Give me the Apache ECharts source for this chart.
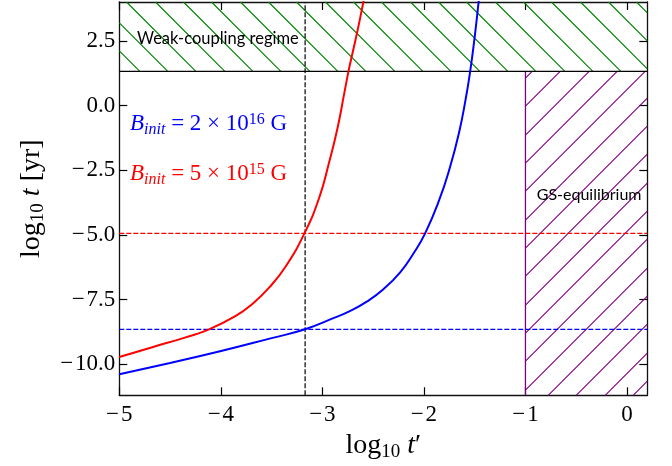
<!DOCTYPE html>
<html>
<head>
<meta charset="utf-8">
<script src="https://cdn.jsdelivr.net/npm/echarts@6/dist/echarts.min.js"></script>
<style>
  html, body { margin: 0; padding: 0; background: #fff; }
  #chart { width: 672px; height: 466px; }
</style>
</head>
<body>
<div id="chart"></div>
<script>
// Axis extents and tick positions
const xRange = [-5, 0.2];
const yRange = [-11.2, 4.0];
const xTicks = [-5, -4, -3, -2, -1, 0];
const yTicks = [-10, -7.5, -5, -2.5, 0, 2.5];

// Region boundaries
const weakCouplingLevel = 1.32;   // log10 t above which the weak-coupling regime applies
const gsEquilibriumStart = -1;    // log10 t' beyond which GS equilibrium holds

// Reference markers
const crossingX = -3.17;          // vertical dashed marker (log10 t')
const redLevel = -4.94;           // horizontal dashed level for the 5e15 G track
const blueLevel = -8.65;          // horizontal dashed level for the 2e16 G track

// Evolution tracks: [log10 t', log10 t]
const trackStrong = [ // B_init = 2e16 G
  [-5.0, -10.39], [-4.5, -9.95], [-4.018, -9.51], [-3.5, -8.99], [-3.17, -8.65],
  [-2.892, -8.22], [-2.73, -7.95], [-2.563, -7.58], [-2.399, -7.10], [-2.234, -6.45],
  [-2.103, -5.72], [-1.988, -4.94], [-1.85, -3.66], [-1.742, -2.37], [-1.656, -1.08],
  [-1.591, 0.20], [-1.545, 1.30], [-1.496, 2.78], [-1.459, 4.07], [-1.45, 4.3]
];
const trackWeak = [ // B_init = 5e15 G
  [-5.0, -9.72], [-4.675, -9.34], [-4.346, -8.96], [-4.116, -8.65], [-3.853, -8.13],
  [-3.69, -7.67], [-3.525, -7.04], [-3.36, -6.21], [-3.177, -4.94], [-3.03, -3.55],
  [-2.934, -2.20], [-2.85, -0.86], [-2.786, 0.44], [-2.744, 1.30], [-2.719, 1.75],
  [-2.66, 2.78], [-2.596, 4.0], [-2.58, 4.3]
];

const mathFont = '"Liberation Serif", "DejaVu Serif", serif';
const sansFont = 'Lato, "Open Sans", sans-serif';

const chart = echarts.init(document.getElementById('chart'), null, { renderer: 'canvas' });

// Hatched rectangle: [x0, x1, y0, y1, kind]; kind 0 = "\\" green, 1 = "/" purple
const hatchRegions = [
  [xRange[0], xRange[1], weakCouplingLevel, yRange[1], 0],
  [gsEquilibriumStart, xRange[1], yRange[0], weakCouplingLevel, 1]
];
const HATCH_STEP = 28.33;
const hatchStyles = [
  { color: '#008000', phase: 16.3 },
  { color: '#800080', phase: 8 }
];

function renderHatch(params, api) {
  const kind = api.value(4);
  const p0 = api.coord([api.value(0), api.value(3)]);
  const p1 = api.coord([api.value(1), api.value(2)]);
  const L = p0[0], T = p0[1], R = p1[0], B = p1[1];
  const st = hatchStyles[kind];
  const mod = (a, m) => ((a % m) + m) % m;
  let d = '';
  const cMin = kind === 0 ? T - R : L + T;
  const cMax = kind === 0 ? B - L : R + B;
  for (let c0 = cMin + mod(st.phase - cMin, HATCH_STEP); c0 <= cMax; c0 += HATCH_STEP) {
    const c = Math.round(c0) + 0.5;
    let xa, xb, ya, yb;
    if (kind === 0) {          // lines y - x = c
      xa = Math.max(L, T - c); xb = Math.min(R, B - c);
      ya = xa + c; yb = xb + c;
    } else {                   // lines x + y = c
      xa = Math.max(L, c - B); xb = Math.min(R, c - T);
      ya = c - xa; yb = c - xb;
    }
    if (xb > xa) d += 'M' + xa + ' ' + ya + 'L' + xb + ' ' + yb;
  }
  const children = [{
    type: 'path', shape: { pathData: d },
    style: { stroke: st.color, fill: null, lineWidth: 1.1 }
  }];
  if (kind === 1) {
    children.push({ type: 'line', shape: { x1: L, y1: T, x2: L, y2: B },
      style: { stroke: st.color, lineWidth: 1.3 } });
  }
  return { type: 'group', children: children };
}

const tickStyle = { inside: true, length: 8, lineStyle: { color: '#000', width: 1.2 } };
const frameLine = { show: true, onZero: false, lineStyle: { color: '#111', width: 1.3 } };
const fmtMinus = (v, digits) => (v < 0 ? '\u2212\u200A' : '') + Math.abs(v).toFixed(digits);

const titleRich = {
  r: { fontFamily: mathFont, fontSize: 28, lineHeight: 32, color: '#000' },
  i: { fontFamily: mathFont, fontSize: 28, lineHeight: 32, fontStyle: 'italic', color: '#000' },
  s: { fontFamily: mathFont, fontSize: 19, lineHeight: 12, verticalAlign: 'bottom', color: '#000' }
};

function mathLabel(color) {
  return {
    b: { fontFamily: mathFont, fontSize: 23, lineHeight: 26, fontStyle: 'italic', fill: color },
    s: { fontFamily: mathFont, fontSize: 16, lineHeight: 15, fontStyle: 'italic', verticalAlign: 'bottom', fill: color },
    r: { fontFamily: mathFont, fontSize: 23, lineHeight: 26, fill: color },
    p: { fontFamily: mathFont, fontSize: 16, lineHeight: 9, verticalAlign: 'top', fill: color }
  };
}

const option = {
  animation: false,
  backgroundColor: '#fff',
  grid: { left: 119.3, right: 24.7, top: 2, bottom: 70.7, containLabel: false, outerBoundsMode: 'none' },
  xAxis: [
    {
      type: 'value', min: xRange[0], max: xRange[1], position: 'bottom',
      axisLine: frameLine, splitLine: { show: false },
      axisTick: Object.assign({ customValues: xTicks }, tickStyle),
      axisLabel: { customValues: xTicks, margin: 8, fontFamily: mathFont, fontSize: 23, color: '#000',
        formatter: v => fmtMinus(v, 0) },
      name: '{r|log}{s|10}{r| }{i|t}{r|\u2032}', nameLocation: 'middle', nameGap: 30,
      nameTextStyle: { rich: titleRich }
    },
    {
      type: 'value', min: xRange[0], max: xRange[1], position: 'top',
      axisLine: frameLine, splitLine: { show: false },
      axisTick: Object.assign({ customValues: xTicks }, tickStyle),
      axisLabel: { show: false }
    }
  ],
  yAxis: [
    {
      type: 'value', min: yRange[0], max: yRange[1], position: 'left',
      axisLine: frameLine, splitLine: { show: false },
      axisTick: Object.assign({ customValues: yTicks }, tickStyle),
      axisLabel: { customValues: yTicks, margin: 4, fontFamily: mathFont, fontSize: 23, color: '#000',
        formatter: v => fmtMinus(v, 1) },
      name: '{r|log}{s|10}{r| }{i|t}{r| [yr]}', nameLocation: 'middle', nameGap: 72, nameRotate: 90,
      nameTextStyle: { rich: titleRich }
    },
    {
      type: 'value', min: yRange[0], max: yRange[1], position: 'right',
      axisLine: frameLine, splitLine: { show: false },
      axisTick: Object.assign({ customValues: yTicks }, tickStyle),
      axisLabel: { show: false }
    }
  ],
  series: [
    {
      type: 'custom', name: 'regions', renderItem: renderHatch, data: hatchRegions,
      encode: { x: [0, 1], y: [2, 3] }, z: 1, silent: true
    },
    {
      type: 'line', name: 'weak-coupling boundary', z: 3, symbol: 'none',
      data: [[xRange[0], weakCouplingLevel], [xRange[1], weakCouplingLevel]],
      lineStyle: { color: '#000', width: 1.3 }
    },
    {
      type: 'line', name: 'crossing', z: 3, symbol: 'none',
      data: [[crossingX, yRange[0]], [crossingX, yRange[1]]],
      lineStyle: { color: '#000', width: 1.2, type: [5, 2] }
    },
    {
      type: 'line', name: 'red level', z: 3, symbol: 'none',
      data: [[xRange[0], redLevel], [xRange[1], redLevel]],
      lineStyle: { color: '#ff0000', width: 1.2, type: [5, 2] }
    },
    {
      type: 'line', name: 'blue level', z: 3, symbol: 'none',
      data: [[xRange[0], blueLevel], [xRange[1], blueLevel]],
      lineStyle: { color: '#0000ff', width: 1.2, type: [5, 2] }
    },
    {
      type: 'line', name: 'B_init = 5e15 G', z: 4, symbol: 'none', smooth: 0.5,
      data: trackWeak, lineStyle: { color: '#ff0000', width: 2 }, clip: true
    },
    {
      type: 'line', name: 'B_init = 2e16 G', z: 4, symbol: 'none', smooth: 0.5,
      data: trackStrong, lineStyle: { color: '#0000ff', width: 2 }, clip: true
    }
  ],
  graphic: [
    {
      type: 'text', x: 137, y: 38.3, z: 10,
      style: { text: 'Weak-coupling regime', fontFamily: sansFont, fontSize: 16.5, fill: '#000', verticalAlign: 'middle' }
    },
    {
      type: 'text', x: 536.7, y: 195, z: 10,
      style: { text: 'GS-equilibrium', fontFamily: sansFont, fontSize: 16, fill: '#000', verticalAlign: 'middle' }
    },
    {
      type: 'text', x: 130, y: 124.3, z: 10,
      style: { text: '{b|B}{s|init}{r| = 2 × 10}{p|16}{r| G}', rich: mathLabel('#0000ff'), verticalAlign: 'middle' }
    },
    {
      type: 'text', x: 130, y: 174.3, z: 10,
      style: { text: '{b|B}{s|init}{r| = 5 × 10}{p|15}{r| G}', rich: mathLabel('#ff0000'), verticalAlign: 'middle' }
    }
  ]
};

chart.setOption(option);
</script>
</body>
</html>
